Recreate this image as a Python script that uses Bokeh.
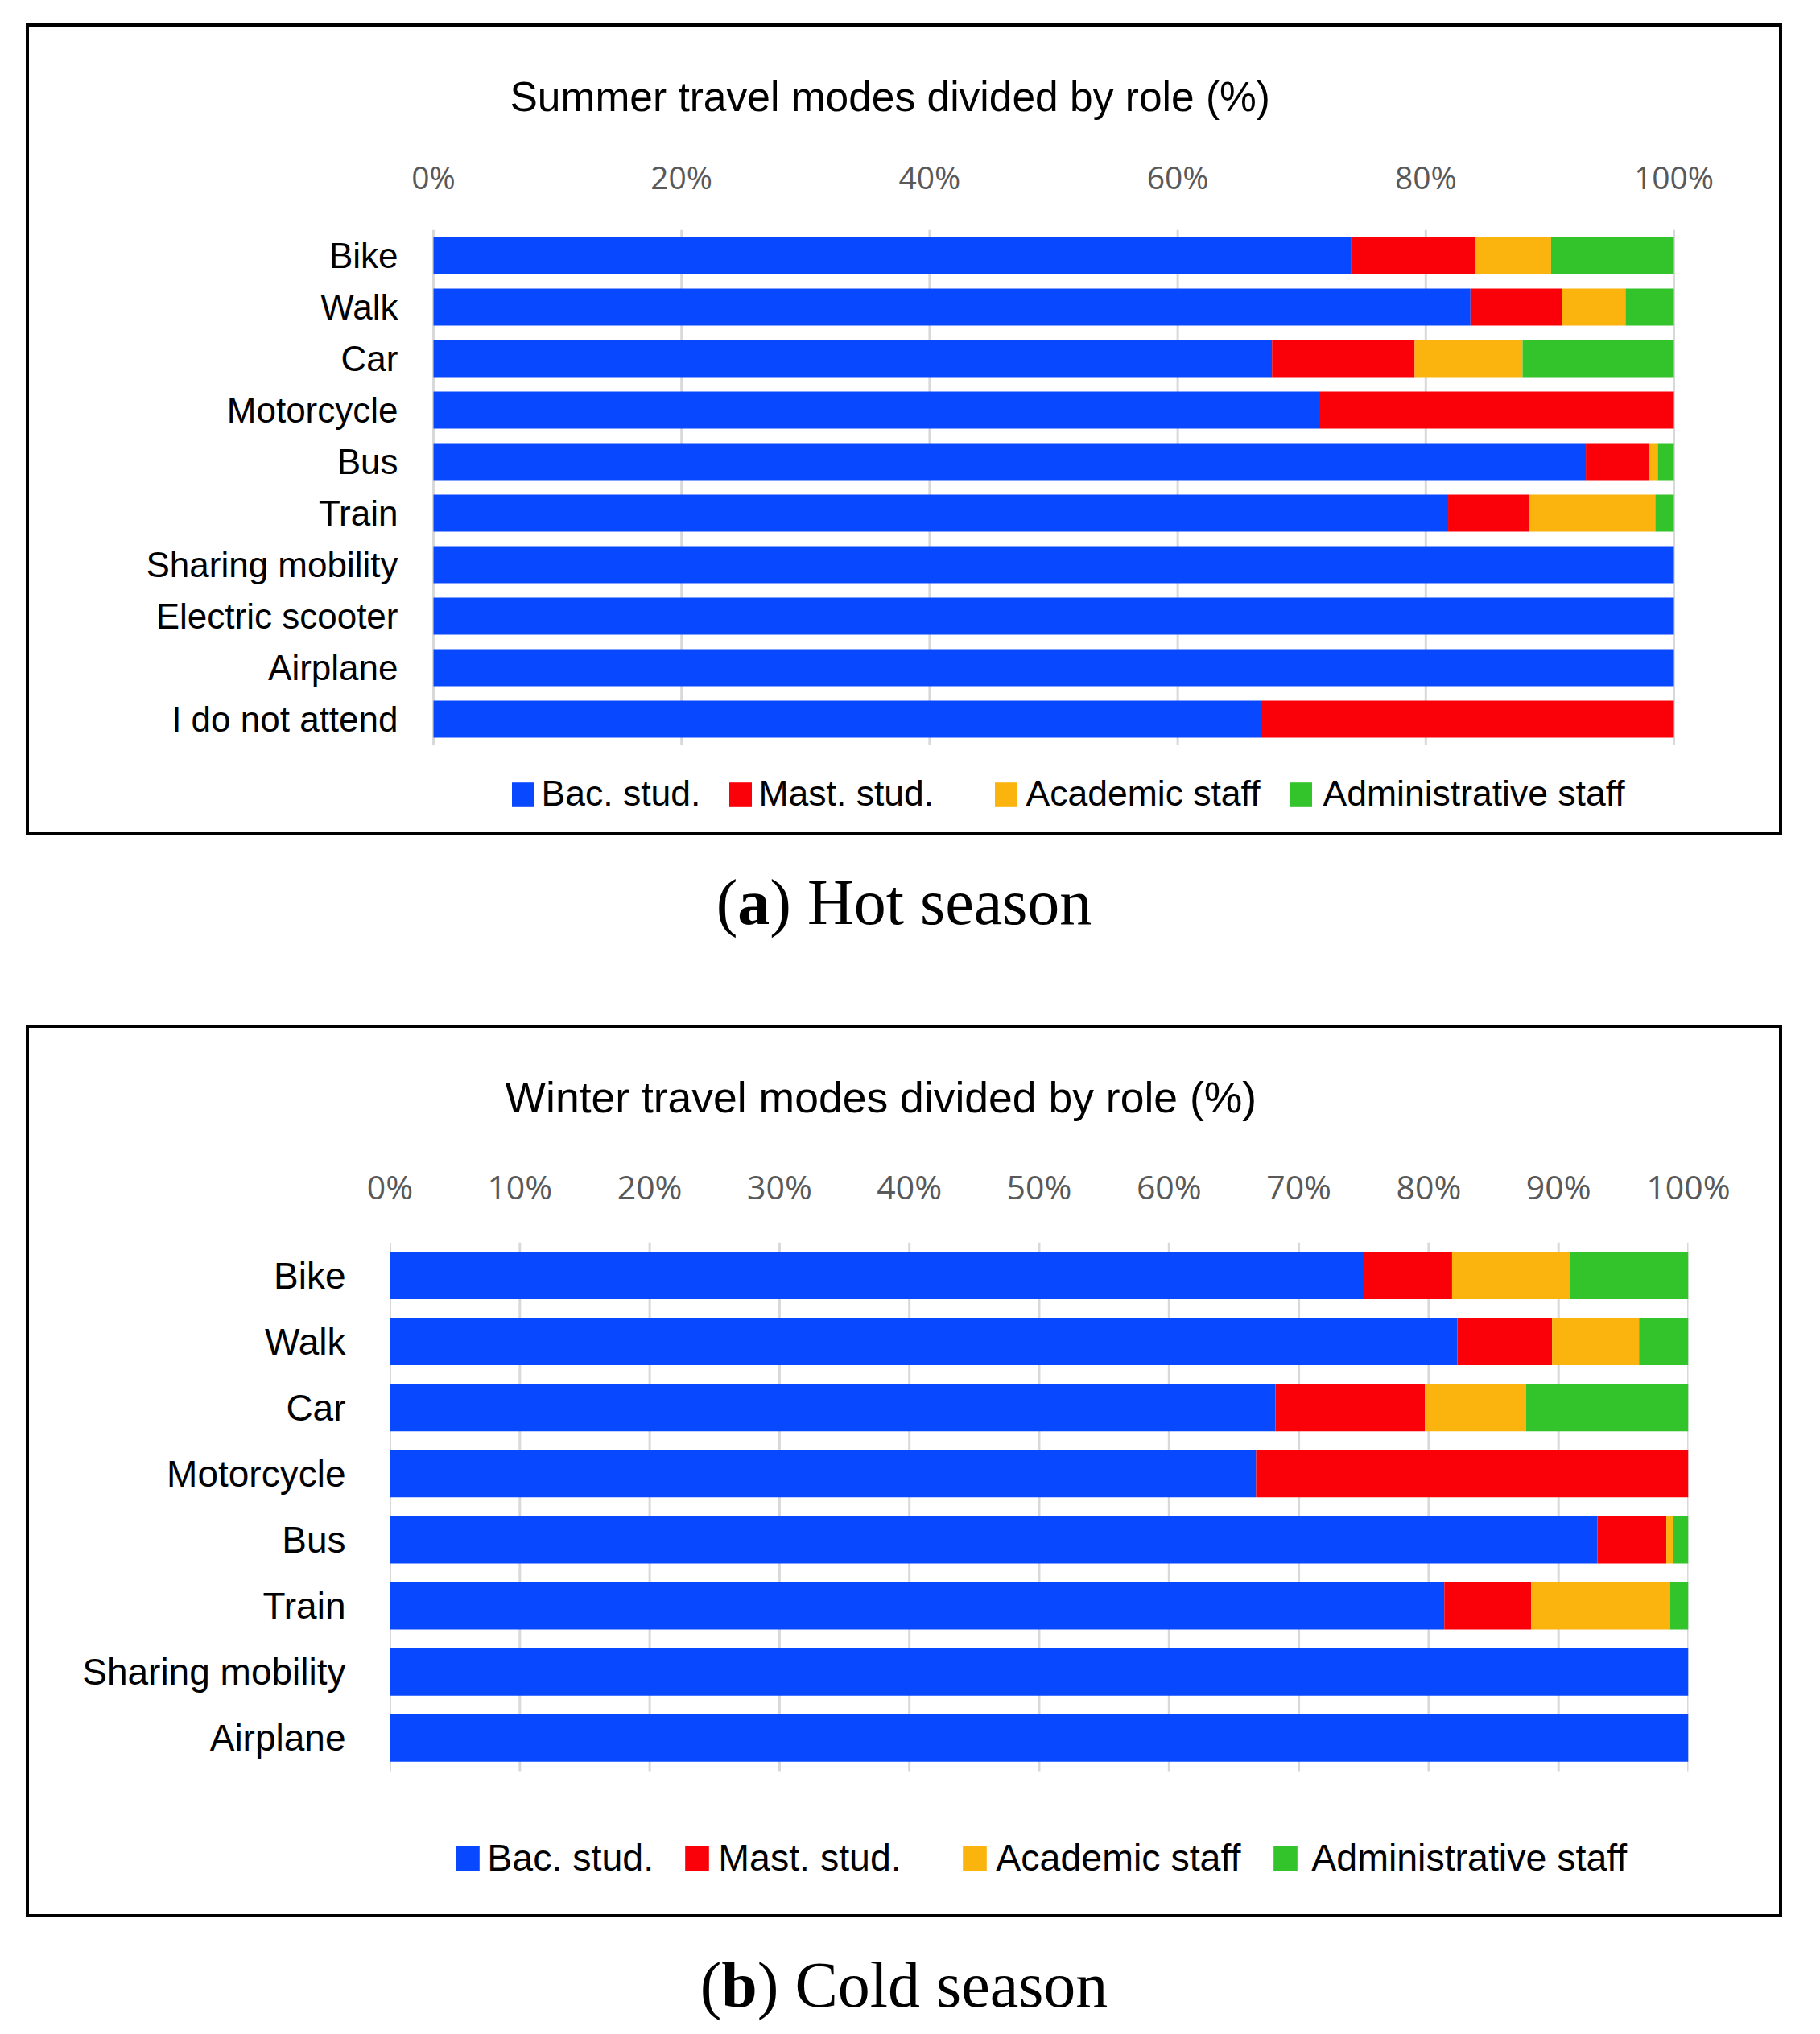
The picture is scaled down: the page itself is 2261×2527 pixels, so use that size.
from bokeh.plotting import figure
from bokeh.layouts import column
from bokeh.models import (ColumnDataSource, Range1d, FixedTicker, Legend, LegendItem, Div)
from bokeh.embed import file_html
from bokeh.resources import INLINE

# ---------------- data ----------------
roles = ["Bac. stud.", "Mast. stud.", "Academic staff", "Administrative staff"]
role_keys = ["bac", "mast", "acad", "admin"]
colors = ["#0848FF", "#FA0008", "#FBB30D", "#32C42A"]

summer_modes = ["Bike", "Walk", "Car", "Motorcycle", "Bus", "Train",
                "Sharing mobility", "Electric scooter", "Airplane", "I do not attend"]
summer_bac = [74.0, 83.6, 67.6, 71.4, 92.9, 81.8, 100.0, 100.0, 100.0, 66.7]
summer_mast = [10.0, 7.4, 11.5, 28.6, 5.1, 6.5, 0.0, 0.0, 0.0, 33.3]
summer_acad = [6.1, 5.1, 8.7, 0.0, 0.7, 10.2, 0.0, 0.0, 0.0, 0.0]
summer_admin = [9.9, 3.9, 12.2, 0.0, 1.3, 1.5, 0.0, 0.0, 0.0, 0.0]
summer_ticks = [0, 20, 40, 60, 80, 100]
summer_tick_labels = ["0%", "20%", "40%", "60%", "80%", "100%"]

winter_modes = ["Bike", "Walk", "Car", "Motorcycle", "Bus", "Train",
                "Sharing mobility", "Airplane"]
winter_bac = [75.0, 82.2, 68.2, 66.7, 93.0, 81.2, 100.0, 100.0]
winter_mast = [6.8, 7.3, 11.5, 33.3, 5.3, 6.7, 0.0, 0.0]
winter_acad = [9.1, 6.7, 7.8, 0.0, 0.5, 10.7, 0.0, 0.0]
winter_admin = [9.1, 3.8, 12.5, 0.0, 1.2, 1.4, 0.0, 0.0]
winter_ticks = [0, 10, 20, 30, 40, 50, 60, 70, 80, 90, 100]
winter_tick_labels = ["0%", "10%", "20%", "30%", "40%", "50%", "60%", "70%", "80%", "90%", "100%"]

SANS = "Liberation Sans"
SERIF = "Liberation Serif"

BW = 4                    # frame line width
CL, CR = 36, 2210         # inner edges of the black frames (page px)
FL, FR = 484, 2097        # shared plot-frame edges (a column aligns its plots' frames)


def make_panel(cfg):
    ct, cb = cfg["content_tb"]
    W = CR - CL
    H = cb - ct
    x0, x100, ft, bars_bottom = cfg["frame"]   # where 0 % / 100 % and the bar block lie
    fb = cb - 4                                # frame extends down to hold the legend
    modes = cfg["modes"]
    n = len(modes)
    ypos = [n - 1 - i for i in range(n)]          # first mode at the top
    unit_y = (bars_bottom - ft) / n               # px per category
    y_top = n - 0.5
    y_bot = y_top - (fb - ft) / unit_y
    unit_x = (x100 - x0) / 100.0
    x_start = (FL - x0) / unit_x
    x_end = 100 + (FR - x100) / unit_x

    src = ColumnDataSource(dict(y=ypos, bac=cfg["bac"], mast=cfg["mast"],
                                acad=cfg["acad"], admin=cfg["admin"]))
    p = figure(width=W, height=H,
               x_range=Range1d(x_start, x_end), y_range=Range1d(y_bot, y_top),
               x_axis_location="above",
               output_backend="svg", toolbar_location=None,
               min_border_left=FL - CL, min_border_right=CR - FR,
               min_border_top=ft - ct, min_border_bottom=cb - fb,
               margin=cfg["margin"],
               styles={"outline": f"{BW}px solid black", "outline-offset": "0px"})
    p.outline_line_color = None
    p.background_fill_color = "white"
    p.border_fill_color = "white"
    p.grid.visible = False

    # vertical grid lines, only over the bar area
    ticks = cfg["ticks"]
    p.segment(x0=ticks, x1=ticks, y0=[-0.5] * len(ticks), y1=[y_top] * len(ticks),
              line_color="#D9D9D9", line_width=3)

    rs = p.hbar_stack(role_keys, y="y", height=cfg["bar_h"], color=colors,
                      line_color=None, source=src)

    # title
    p.title.text = cfg["title"]
    p.title.text_font = SANS
    p.title.text_font_size = cfg["title_fs"]
    p.title.text_font_style = "normal"
    p.title.text_color = "black"
    p.title.align = "left"
    p.title.offset = cfg["title_x"] - FL
    p.title.standoff = cfg["title_standoff"]

    # axes
    xa = p.xaxis[0]
    xa.ticker = FixedTicker(ticks=ticks)
    xa.major_label_overrides = {t: l for t, l in zip(ticks, cfg["tick_labels"])}
    xa.axis_line_color = None
    xa.major_tick_line_color = None
    xa.minor_tick_line_color = None
    xa.major_label_text_font = "Open Sans"
    xa.major_label_text_font_size = cfg["tick_fs"]
    xa.major_label_text_color = "#595959"
    xa.major_label_standoff = cfg["tick_standoff"]

    ya = p.yaxis[0]
    ya.ticker = FixedTicker(ticks=ypos)
    ya.major_label_overrides = {y: m for y, m in zip(ypos, modes)}
    ya.axis_line_color = None
    ya.major_tick_line_color = None
    ya.minor_tick_line_color = None
    ya.major_label_text_font = SANS
    ya.major_label_text_font_size = cfg["cat_fs"]
    ya.major_label_text_color = "black"
    ya.major_label_standoff = FL - cfg["cat_right"]

    # legend: one entry per legend, placed like the reference
    gw, gh = cfg["glyph"]
    for r, lab, sqx, sto in zip(rs, roles, cfg["legend_x"], cfg["legend_standoff"]):
        lg = Legend(items=[LegendItem(label=lab, renderers=[r])],
                    location=(sqx - gw * 0.1 - FL, cfg["legend_y"]),
                    orientation="horizontal", padding=0, margin=0, spacing=0,
                    glyph_width=gw, glyph_height=gh, label_standoff=sto,
                    label_text_font=SANS, label_text_font_size=cfg["legend_fs"],
                    label_text_color="black", label_text_baseline="middle",
                    border_line_color=None, background_fill_alpha=0)
        p.add_layout(lg, "center")
    return p


def make_caption(letter, rest, pad_top, height):
    return Div(text=f"(<b>{letter}</b>) {rest}", width=CR - CL + 2 * BW, height=height,
               margin=(0, 0, 0, CL - BW),
               styles={"font-family": SERIF, "font-size": "80px", "line-height": "80px",
                       "text-align": "center", "color": "black",
                       "padding-top": f"{pad_top}px", "box-sizing": "border-box"})


cfg_top = dict(content_tb=(33, 1034), frame=(538, 2079, 285, 925), margin=(33, 0, 0, CL),
               modes=summer_modes, bac=summer_bac, mast=summer_mast,
               acad=summer_acad, admin=summer_admin, bar_h=0.72,
               ticks=summer_ticks, tick_labels=summer_tick_labels,
               tick_fs="39px", tick_standoff=34, cat_fs="44px", cat_right=500,
               title="Summer travel modes divided by role (%)", title_fs="51.5px",
               title_x=633, title_standoff=82,
               glyph=(35, 37), legend_x=(635, 905, 1235, 1601), legend_y=19,
               legend_standoff=(6, 6, 8, 11), legend_fs="44.5px")

cfg_bot = dict(content_tb=(1277, 2378), frame=(484, 2097, 1543, 2200), margin=(0, 0, 0, CL),
               modes=winter_modes, bac=winter_bac, mast=winter_mast,
               acad=winter_acad, admin=winter_admin, bar_h=0.715,
               ticks=winter_ticks, tick_labels=winter_tick_labels,
               tick_fs="41px", tick_standoff=36, cat_fs="46px", cat_right=435,
               title="Winter travel modes divided by role (%)", title_fs="53.5px",
               title_x=627, title_standoff=100,
               glyph=(37, 39), legend_x=(566, 851, 1196, 1582), legend_y=39,
               legend_standoff=(6, 8, 8, 14), legend_fs="46.5px")

p1 = make_panel(cfg_top)
cap1 = make_caption("a", "Hot season", 47, 1277 - 1034)
p2 = make_panel(cfg_bot)
cap2 = make_caption("b", "Cold season", 48, 2519 - 2378)
layout = column(p1, cap1, p2, cap2, spacing=0)

open("out.html", "w").write(file_html(layout, INLINE))
